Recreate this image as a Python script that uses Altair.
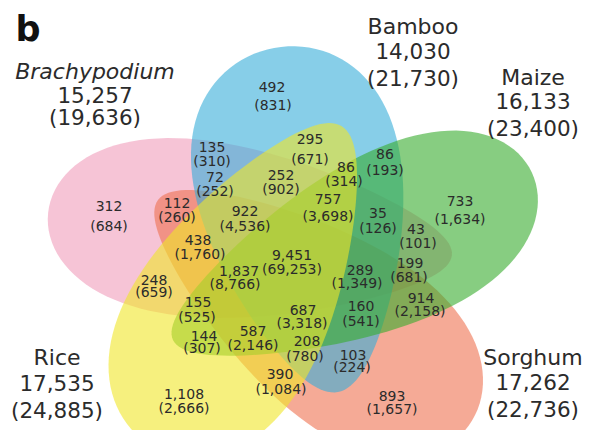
import altair as alt
import numpy as np
import pandas as pd

# ---------------- data ----------------
set_names = ["Brachypodium", "Sorghum", "Bamboo", "Maize", "Rice"]   # drawing order
set_counts = [15257, 17262, 14030, 16133, 17535]
set_totals = [19636, 22736, 21730, 23400, 24885]

region_counts = [492, 135, 72, 252, 295, 86, 86, 757, 35, 733, 43, 312, 112, 922, 438,
                 9451, 289, 199, 248, 1837, 155, 687, 160, 914, 144, 587, 208, 103, 390,
                 1108, 893]
region_totals = [831, 310, 252, 902, 671, 314, 193, 3698, 126, 1634, 101, 684, 260, 4536,
                 1760, 69253, 1349, 681, 659, 8766, 525, 3318, 541, 2158, 307, 2146, 780,
                 224, 1084, 2666, 1657]

# ---------------- layout (image pixel coordinates) ----------------
shape_cx = [250.0, 313.3, 306.0, 352.4, 246.5]
shape_cy = [234.0, 312.9, 220.0, 256.2, 286.0]
shape_a = [203, 192, 175, 198, 186]        # half length
shape_k = [84, 88, 99, 83, 93]             # half width
shape_angle = [186.0, 36.0, 259.5, 335.0, 120.7]   # direction of the broad end
shape_colors = ["#f09dbb", "#ee7150", "#37add9", "#37ac2d", "#f0e628"]
EGG = 0.35

lab_x1 = [272, 212, 215, 281, 310, 346, 385, 328, 378, 460, 416, 109, 177, 245, 198,
          292, 360, 410, 154, 239, 198, 303, 361, 421, 204, 253, 307, 353, 280, 184, 392]
lab_y1 = [88, 148, 178, 176, 140, 168, 155, 200, 214, 202, 230, 207, 204, 212, 241,
          256, 271, 264, 281, 272, 303, 311, 307, 299, 337, 332, 342, 356, 375, 395, 397]
lab_x2 = [273, 212, 215, 281, 310, 344, 385, 328, 378, 460, 418, 109, 177, 245, 200,
          292, 357, 409, 154, 235, 197, 302, 361, 420, 202, 253, 305, 352, 281, 184, 392]
lab_y2 = [106, 162, 192, 190, 160, 182, 171, 217, 229, 220, 244, 227, 218, 227, 255,
          270, 284, 278, 293, 285, 318, 324, 322, 312, 349, 346, 357, 368, 390, 409, 410]

title_x = [95, 533, 413, 533, 57]
title_y = [72, 358, 27, 78, 358]
title_dy = [25, 26, 26, 25, 27]
title_dy2 = [47, 53, 53, 52, 54]


def egg_ring(cx, cy, a, k, ang, e, n=120):
    t = np.linspace(0, 2 * np.pi, n, endpoint=False)
    X = a * np.cos(t)
    Y = k * np.sin(t) * (1 + e * np.cos(t))
    th = np.deg2rad(ang)
    px = cx + X * np.cos(th) - Y * np.sin(th)
    py = cy + X * np.sin(th) + Y * np.cos(th)
    ring = [[float(x), float(y)] for x, y in zip(px, py)]
    ring.append(ring[0])
    return ring


features = []
for i, name in enumerate(set_names):
    features.append({
        "type": "Feature",
        "properties": {"set": name, "order": i},
        "geometry": {"type": "Polygon",
                     "coordinates": [egg_ring(shape_cx[i], shape_cy[i], shape_a[i],
                                              shape_k[i], shape_angle[i], EGG)]},
    })

shapes = alt.Chart(
    alt.InlineData(values={"type": "FeatureCollection", "features": features},
                   format=alt.DataFormat(property="features", type="json"))
).mark_geoshape(opacity=0.6, strokeWidth=0, stroke=None).encode(
    color=alt.Color("properties.set:N",
                    scale=alt.Scale(domain=set_names, range=shape_colors), legend=None),
).project(type="identity", scale=1, translate=[-8, -8])

reg_df = pd.DataFrame({
    "x1": lab_x1, "y1": lab_y1, "x2": lab_x2, "y2": lab_y2,
    "t1": [f"{v:,}" for v in region_counts],
    "t2": [f"({v:,})" for v in region_totals],
})

title_df = pd.DataFrame({
    "name": set_names,
    "x": title_x,
    "y": title_y,
    "y2": [y + d for y, d in zip(title_y, title_dy)],
    "y3": [y + d for y, d in zip(title_y, title_dy2)],
    "c": [f"{v:,}" for v in set_counts],
    "t": [f"({v:,})" for v in set_totals],
})

xs = alt.Scale(domain=[8, 588], nice=False, zero=False)
ys = alt.Scale(domain=[430, 8], nice=False, zero=False)

FONT = "DejaVu Sans"
TXT = "#2b2b2b"
RFS = 14

reg1 = alt.Chart(reg_df).mark_text(font=FONT, fontSize=RFS, color=TXT, align="center", baseline="middle").encode(
    x=alt.X("x1:Q", scale=xs, axis=None), y=alt.Y("y1:Q", scale=ys, axis=None), text="t1:N")
reg2 = alt.Chart(reg_df).mark_text(font=FONT, fontSize=RFS, color=TXT, align="center", baseline="middle").encode(
    x=alt.X("x2:Q", scale=xs, axis=None), y=alt.Y("y2:Q", scale=ys, axis=None), text="t2:N")

tbase = alt.Chart(title_df)
name_plain = tbase.transform_filter(alt.datum.name != "Brachypodium").mark_text(
    font=FONT, fontSize=22, color=TXT, align="center", baseline="middle").encode(
    x=alt.X("x:Q", scale=xs, axis=None), y=alt.Y("y:Q", scale=ys, axis=None), text="name:N")
name_ital = tbase.transform_filter(alt.datum.name == "Brachypodium").mark_text(
    font=FONT, fontSize=22, fontStyle="italic", color=TXT, align="center", baseline="middle").encode(
    x=alt.X("x:Q", scale=xs, axis=None), y=alt.Y("y:Q", scale=ys, axis=None), text="name:N")
cnt = tbase.mark_text(font=FONT, fontSize=21.5, color=TXT, align="center", baseline="middle").encode(
    x=alt.X("x:Q", scale=xs, axis=None), y=alt.Y("y2:Q", scale=ys, axis=None), text="c:N")
tot = tbase.mark_text(font=FONT, fontSize=21.5, color=TXT, align="center", baseline="middle").encode(
    x=alt.X("x:Q", scale=xs, axis=None), y=alt.Y("y3:Q", scale=ys, axis=None), text="t:N")

panel = alt.Chart(pd.DataFrame({"lab": ["b"], "x": [28], "y": [41]})).mark_text(
    font=FONT, fontSize=35, fontWeight="bold", color="#111111", align="center",
    baseline="alphabetic").encode(
    x=alt.X("x:Q", scale=xs, axis=None), y=alt.Y("y:Q", scale=ys, axis=None), text="lab:N")

chart = alt.layer(shapes, reg1, reg2, name_plain, name_ital, cnt, tot, panel).properties(
    width=580, height=422, padding=0, background="white"
).configure_view(stroke=None)

chart.save("out.html", embed_options={"renderer": "svg", "actions": False})
